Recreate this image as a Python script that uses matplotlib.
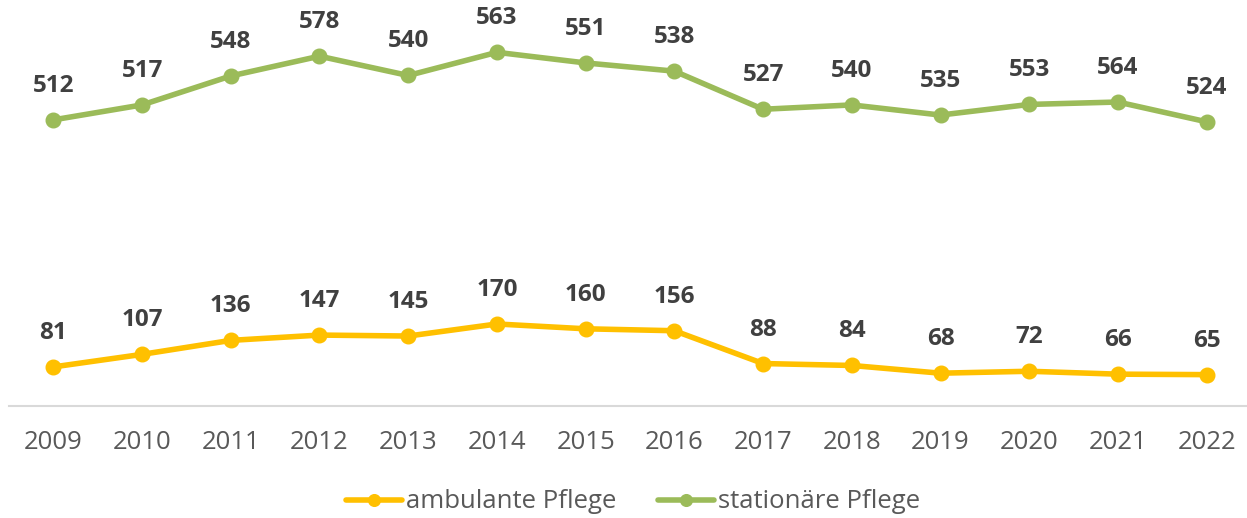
import numpy as np
import matplotlib.pyplot as plt

years = ['2009', '2010', '2011', '2012', '2013', '2014', '2015',
         '2016', '2017', '2018', '2019', '2020', '2021', '2022']
ambulant = [81, 107, 136, 147, 145, 170, 160, 156, 88, 84, 68, 72, 66, 65]
stationaer = [512, 517, 548, 578, 540, 563, 551, 538, 527, 540, 535, 553, 564, 524]

yellow = '#FFC000'
green = '#9BBB59'

plt.rcParams['font.family'] = ['Open Sans', 'DejaVu Sans']

fig = plt.figure(figsize=(12.47, 5.18), dpi=100)
ax = fig.add_axes([9 / 1247, 112 / 518, 1242 / 1247, 386 / 518])

x = np.arange(len(years))
# stacked line chart: the green line sits on top of the yellow one
stacked = np.array(ambulant) + np.array(stationaer)

ax.plot(x, ambulant, color=yellow, lw=4, marker='o', ms=10.5,
        label='ambulante Pflege', solid_capstyle='round')
ax.plot(x, stacked, color=green, lw=4, marker='o', ms=10.5,
        label='stationäre Pflege', solid_capstyle='round')

for xi, yi, v in zip(x, ambulant, ambulant):
    ax.annotate(str(v), (xi, yi), xytext=(0, 24.5), textcoords='offset points',
                ha='center', va='center', fontsize=17.5, fontweight='bold',
                color='#404040')
for xi, yi, v in zip(x, stacked, stationaer):
    ax.annotate(str(v), (xi, yi), xytext=(0, 24.5), textcoords='offset points',
                ha='center', va='center', fontsize=17.5, fontweight='bold',
                color='#404040')

ax.set_xlim(-0.5, 13.5)
ax.set_ylim(0, 800)
ax.set_xticks(x)
ax.set_xticklabels(years, fontsize=18.5, color='#595959')
ax.tick_params(axis='x', length=0, pad=17)
ax.set_yticks([])
for s in ['top', 'right', 'left']:
    ax.spines[s].set_visible(False)
ax.spines['bottom'].set_color('#D9D9D9')
ax.spines['bottom'].set_linewidth(1.5)

leg = fig.legend(loc='center', bbox_to_anchor=(633 / 1247, 1 - 502 / 518), ncol=2,
                 frameon=False, fontsize=18.5, labelcolor='#595959',
                 handlelength=2.2, handletextpad=0.15, columnspacing=1.6,
                 markerscale=0.8)

fig.savefig('out.png', dpi=100)
